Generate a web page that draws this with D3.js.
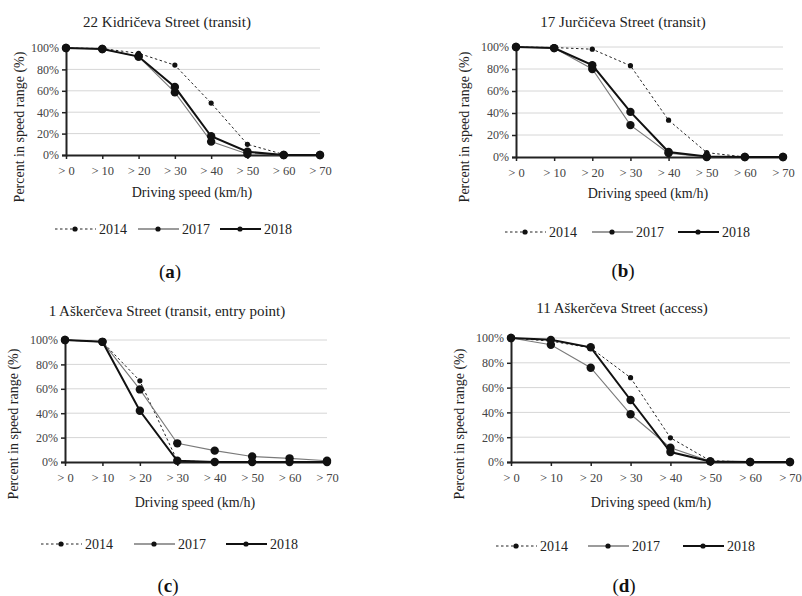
<!DOCTYPE html>
<html>
<head>
<meta charset="utf-8">
<script src="https://cdn.jsdelivr.net/npm/d3@7"></script>
<style>
  html, body { margin: 0; padding: 0; background: #fff; }
  svg { display: block; }
  svg text { font-family: 'Liberation Serif', 'DejaVu Serif', serif; }
</style>
</head>
<body>
<svg id="chart" width="802" height="596"></svg>
<script>
// ---------------- data ----------------
const categories = ["> 0", "> 10", "> 20", "> 30", "> 40", "> 50", "> 60", "> 70"];
const yTicks = [0, 20, 40, 60, 80, 100];
const seriesNames = ["2014", "2017", "2018"];
const panelTitles = [
  "22 Kidričeva  Street (transit)",
  "17 Jurčičeva Street (transit)",
  "1 Aškerčeva Street (transit, entry point)",
  "11 Aškerčeva Street (access)"
];
const panelLetters = ["a", "b", "c", "d"];
const xTitle = "Driving speed (km/h)";
const yTitle = "Percent in speed range (%)";

const a2014 = [100, 99.5, 95, 84, 48.5, 10, 0.5, 0];
const a2017 = [100, 99, 92, 58.5, 12.5, 1, 0, 0];
const a2018 = [100, 99, 92, 63.5, 17.5, 3, 0, 0];

const b2014 = [100, 99.5, 98, 83, 33.5, 4, 0, 0];
const b2017 = [100, 99, 80, 29, 3.5, 0, 0, 0];
const b2018 = [100, 99, 83.5, 41, 4.5, 0.5, 0, 0];

const c2014 = [100, 98.5, 66.5, 1, 0, 0, 0, 0];
const c2017 = [100, 98.5, 59.5, 15.3, 9.3, 4.5, 3, 1];
const c2018 = [100, 98.5, 42, 1, 0, 0, 0, 0];

const d2014 = [100, 97.5, 92, 68, 19.5, 1, 0, 0];
const d2017 = [100, 94.5, 76, 38.5, 11.5, 0.5, 0, 0];
const d2018 = [100, 98.5, 92.5, 50, 8, 0.5, 0, 0];

const panelData = [
  [a2014, a2017, a2018],
  [b2014, b2017, b2018],
  [c2014, c2017, c2018],
  [d2014, d2017, d2018]
];

// ---------------- layout ----------------
const layout = [
  { x0: 66,  x1: 320, yT: 48,  yB: 155, titleX: 167, titleY: 27,  yTitleX: 24,  yTitleY: 127, xTitleX: 192, xTitleY: 197, legY: 229, legX: [55, 138, 220], letX: 170, letY: 278 },
  { x0: 516, x1: 783, yT: 47,  yB: 157, titleX: 623, titleY: 27,  yTitleX: 469, yTitleY: 127, xTitleX: 648, xTitleY: 198, legY: 232, legX: [505, 592, 678], letX: 623, letY: 277 },
  { x0: 65,  x1: 327, yT: 340, yB: 462, titleX: 167, titleY: 316, yTitleX: 18,  yTitleY: 424, xTitleX: 195, xTitleY: 507, legY: 544, legX: [41, 134, 226],  letX: 168, letY: 592 },
  { x0: 511, x1: 790, yT: 338, yB: 462, titleX: 622, titleY: 313, yTitleX: 464, yTitleY: 424, xTitleX: 651, xTitleY: 507, legY: 546, legX: [496, 588, 683], letX: 624, letY: 592 }
];

const styles = [
  { stroke: "#222", width: 1, dash: "2.5,2.5", r: 2.6, legW: 1 },
  { stroke: "#7a7a7a", width: 1.1, dash: null, r: 4.2, legW: 1.5 },
  { stroke: "#111", width: 2, dash: null, r: 4.2, legW: 2 }
];

const FONT = "'Liberation Serif', 'DejaVu Serif', serif";
const svg = d3.select("#chart");

panelData.forEach((series, pi) => {
  const L = layout[pi];
  const g = svg.append("g");

  const x = d3.scalePoint().domain(categories).range([L.x0, L.x1]);
  const y = d3.scaleLinear().domain([0, 100]).range([L.yB, L.yT]);

  // gridlines
  g.selectAll(".grid").data(yTicks.filter(t => t > 0)).enter().append("line")
    .attr("x1", L.x0).attr("x2", L.x1)
    .attr("y1", d => y(d)).attr("y2", d => y(d))
    .attr("stroke", "#d6d6d6").attr("stroke-width", 1);

  // y axis
  const yAxis = d3.axisLeft(y).tickValues(yTicks).tickFormat(d => d + "%").tickSize(4).tickPadding(3);
  const ya = g.append("g").attr("transform", `translate(${L.x0},0)`).call(yAxis)
    .attr("font-family", FONT);
  ya.select(".domain").attr("stroke", "#222").attr("stroke-width", 2);
  ya.selectAll(".tick line").attr("stroke", "#222").attr("stroke-width", 1.5);
  ya.selectAll(".tick text").attr("font-size", 12).attr("fill", "#444");

  // x axis
  const xAxis = d3.axisBottom(x).tickSize(4).tickSizeOuter(0).tickPadding(7);
  const xa = g.append("g").attr("transform", `translate(0,${L.yB})`).call(xAxis)
    .attr("font-family", FONT);
  xa.select(".domain").attr("stroke", "#222").attr("stroke-width", 2);
  xa.selectAll(".tick line").attr("stroke", "#222").attr("stroke-width", 1.5);
  xa.selectAll(".tick text").attr("font-size", 12.5).attr("fill", "#444");

  // lines & markers
  series.forEach((vals, si) => {
    const s = styles[si];
    const line = d3.line().x((d, i) => x(categories[i])).y(d => y(d));
    g.append("path").datum(vals)
      .attr("d", line).attr("fill", "none")
      .attr("stroke", s.stroke).attr("stroke-width", s.width)
      .attr("stroke-dasharray", s.dash);
    g.selectAll(null).data(vals).enter().append("circle")
      .attr("cx", (d, i) => x(categories[i])).attr("cy", d => y(d))
      .attr("r", s.r).attr("fill", "#111");
  });

  // titles
  g.append("text").attr("x", L.titleX).attr("y", L.titleY).attr("text-anchor", "middle")
    .attr("font-family", FONT).attr("font-size", 15).attr("fill", "#222").text(panelTitles[pi]);
  g.append("text").attr("x", L.xTitleX).attr("y", L.xTitleY).attr("text-anchor", "middle")
    .attr("font-family", FONT).attr("font-size", 14).attr("fill", "#222").text(xTitle);
  g.append("text").attr("transform", `translate(${L.yTitleX},${L.yTitleY}) rotate(-90)`)
    .attr("text-anchor", "middle").attr("font-family", FONT).attr("font-size", 14).attr("fill", "#222").text(yTitle);

  // legend
  seriesNames.forEach((name, si) => {
    const s = styles[si];
    const lx = L.legX[si];
    g.append("line").attr("x1", lx).attr("x2", lx + 41).attr("y1", L.legY).attr("y2", L.legY)
      .attr("stroke", s.stroke).attr("stroke-width", s.legW).attr("stroke-dasharray", s.dash);
    g.append("circle").attr("cx", lx + 20).attr("cy", L.legY).attr("r", 2.6).attr("fill", "#111");
    g.append("text").attr("x", lx + 44).attr("y", L.legY + 4.5).attr("font-family", FONT)
      .attr("font-size", 14).attr("fill", "#222").text(name);
  });

  // panel letter
  const lt = g.append("text").attr("x", L.letX).attr("y", L.letY).attr("text-anchor", "middle")
    .attr("font-family", FONT).attr("font-size", 19).attr("fill", "#111");
  lt.append("tspan").text("(");
  lt.append("tspan").attr("font-weight", "bold").text(panelLetters[pi]);
  lt.append("tspan").text(")");
});
</script>
</body>
</html>
